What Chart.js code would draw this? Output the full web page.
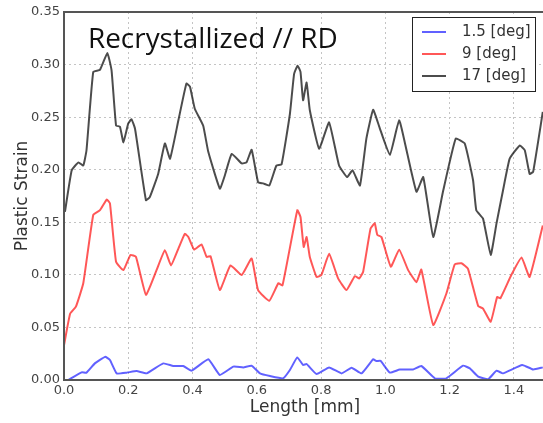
<!DOCTYPE html>
<html lang="en">
<head>
    <meta charset="UTF-8">
    <title>Recrystallized // RD</title>
    <script src="https://cdn.jsdelivr.net/npm/chart.js"></script>
    <style>
        html, body {
            margin: 0;
            padding: 0;
            background: #fff;
            overflow: hidden;
        }

        .chart-box {
            position: relative;
            width: 550px;
            height: 423px;
        }
    </style>
</head>
<body>
    <div class="chart-box">
        <canvas id="strainChart" width="550" height="423"></canvas>
    </div>

    <script>
        const chartTitle = 'Recrystallized // RD';
        const seriesNames = ['1.5 [deg]', '9 [deg]', '17 [deg]'];

        // 1.5 deg
        const length15 = [0.013, 0.055, 0.07, 0.096, 0.128, 0.143, 0.164, 0.195, 0.226, 0.257, 0.309, 0.34, 0.371, 0.397, 0.449, 0.485, 0.527, 0.558, 0.584, 0.61, 0.641, 0.682, 0.703, 0.726, 0.744, 0.755, 0.786, 0.825, 0.864, 0.895, 0.926, 0.962, 0.972, 0.985, 1.014, 1.045, 1.086, 1.112, 1.154, 1.19, 1.242, 1.263, 1.289, 1.32, 1.346, 1.366, 1.426, 1.46, 1.49];
        const strain15 = [0.0, 0.0073, 0.007, 0.0158, 0.022, 0.019, 0.0063, 0.007, 0.0085, 0.0063, 0.0158, 0.0133, 0.0133, 0.0089, 0.0197, 0.0048, 0.0127, 0.012, 0.0136, 0.0063, 0.0038, 0.0016, 0.0095, 0.0215, 0.0143, 0.0152, 0.0057, 0.012, 0.0063, 0.0117, 0.0063, 0.0197, 0.018, 0.0183, 0.007, 0.010, 0.010, 0.0133, 0.0016, 0.0016, 0.0136, 0.011, 0.0032, 0.0007, 0.0089, 0.0063, 0.0143, 0.010, 0.012];

        // 9 deg
        const length9 = [0, 0.019, 0.037, 0.06, 0.091, 0.112, 0.133, 0.143, 0.162, 0.185, 0.207, 0.224, 0.255, 0.288, 0.314, 0.333, 0.356, 0.376, 0.387, 0.405, 0.428, 0.444, 0.456, 0.485, 0.518, 0.553, 0.584, 0.604, 0.639, 0.667, 0.68, 0.726, 0.736, 0.746, 0.755, 0.765, 0.786, 0.801, 0.825, 0.853, 0.879, 0.905, 0.919, 0.931, 0.954, 0.967, 0.975, 0.988, 1.017, 1.043, 1.071, 1.097, 1.112, 1.149, 1.19, 1.216, 1.237, 1.257, 1.289, 1.304, 1.328, 1.348, 1.358, 1.392, 1.424, 1.449, 1.49];
        const strain9 = [0.033, 0.063, 0.0697, 0.092, 0.157, 0.1615, 0.1716, 0.168, 0.1124, 0.1045, 0.119, 0.117, 0.081, 0.1045, 0.1235, 0.109, 0.125, 0.139, 0.136, 0.124, 0.129, 0.117, 0.1178, 0.0855, 0.109, 0.0998, 0.1156, 0.0855, 0.0754, 0.092, 0.090, 0.1615, 0.155, 0.1266, 0.136, 0.117, 0.098, 0.0998, 0.120, 0.0966, 0.0855, 0.0988, 0.0966, 0.103, 0.144, 0.149, 0.138, 0.136, 0.1077, 0.124, 0.1045, 0.093, 0.105, 0.0523, 0.0823, 0.110, 0.111, 0.106, 0.0703, 0.068, 0.0554, 0.079, 0.0776, 0.0998, 0.1165, 0.098, 0.147];

        // 17 deg
        const length17 = [0.003, 0.024, 0.045, 0.06, 0.07, 0.091, 0.112, 0.135, 0.148, 0.162, 0.174, 0.185, 0.2, 0.21, 0.221, 0.255, 0.267, 0.293, 0.314, 0.33, 0.356, 0.381, 0.392, 0.407, 0.433, 0.449, 0.485, 0.501, 0.522, 0.553, 0.568, 0.584, 0.604, 0.62, 0.639, 0.661, 0.677, 0.703, 0.716, 0.727, 0.736, 0.744, 0.755, 0.765, 0.794, 0.825, 0.856, 0.881, 0.898, 0.921, 0.941, 0.962, 0.981, 1.014, 1.043, 1.066, 1.097, 1.118, 1.149, 1.18, 1.219, 1.247, 1.273, 1.283, 1.304, 1.328, 1.346, 1.366, 1.387, 1.418, 1.434, 1.449, 1.46, 1.49];
        const strain17 = [0.160, 0.1995, 0.207, 0.204, 0.2185, 0.293, 0.295, 0.311, 0.2945, 0.242, 0.241, 0.226, 0.244, 0.248, 0.239, 0.171, 0.174, 0.196, 0.225, 0.2105, 0.247, 0.282, 0.279, 0.258, 0.242, 0.217, 0.182, 0.195, 0.215, 0.206, 0.207, 0.219, 0.188, 0.187, 0.185, 0.204, 0.205, 0.253, 0.291, 0.299, 0.293, 0.266, 0.283, 0.2565, 0.220, 0.245, 0.204, 0.193, 0.1995, 0.185, 0.2296, 0.257, 0.241, 0.214, 0.247, 0.2185, 0.179, 0.193, 0.136, 0.180, 0.2296, 0.225, 0.190, 0.1615, 0.1535, 0.119, 0.149, 0.180, 0.2105, 0.223, 0.2185, 0.196, 0.198, 0.255];

        const lineColors = ['rgba(0, 0, 255, 0.62)', 'rgba(255, 0, 0, 0.66)', 'rgba(0, 0, 0, 0.7)'];

        const toPoints = (xs, ys) => xs.map((x, i) => ({ x: x, y: ys[i] }));

        // frame, title text and boxed legend drawn on top of the plot
        const overlayPlugin = {
            id: 'overlay',
            afterDraw(chart) {
                const { ctx, chartArea: a } = chart;
                ctx.save();

                ctx.strokeStyle = '#555';
                ctx.lineWidth = 2;
                ctx.strokeRect(a.left, a.top, a.right - a.left, a.bottom - a.top);

                // title squeezed to the width it has in the original (x 88..338)
                ctx.fillStyle = '#111';
                ctx.font = '25px "Open Sans"';
                const w = ctx.measureText(chartTitle).width;
                const size = Math.min(28, 25 * 250 / w);
                ctx.font = size.toFixed(1) + 'px "Open Sans"';
                ctx.textBaseline = 'alphabetic';
                ctx.textAlign = 'left';
                ctx.fillText(chartTitle, 88, 48);

                // legend
                ctx.fillStyle = '#fff';
                ctx.fillRect(412, 17, 123, 74);
                ctx.strokeStyle = '#222';
                ctx.lineWidth = 1;
                ctx.strokeRect(412.5, 17.5, 123, 74);

                ctx.font = '15px "DejaVu Sans"';
                ctx.textBaseline = 'middle';
                const rowsY = [32, 54, 76];
                seriesNames.forEach((name, i) => {
                    ctx.strokeStyle = lineColors[i];
                    ctx.lineWidth = 2;
                    ctx.beginPath();
                    ctx.moveTo(422, rowsY[i]);
                    ctx.lineTo(446, rowsY[i]);
                    ctx.stroke();
                    ctx.fillStyle = '#333';
                    ctx.fillText(name, 462, rowsY[i]);
                });

                ctx.restore();
            }
        };

        const ctx = document.getElementById('strainChart').getContext('2d');

        new Chart(ctx, {
            type: 'line',
            data: {
                datasets: [
                    { label: seriesNames[0], data: toPoints(length15, strain15), borderColor: lineColors[0], order: 3 },
                    { label: seriesNames[1], data: toPoints(length9, strain9), borderColor: lineColors[1], order: 2 },
                    { label: seriesNames[2], data: toPoints(length17, strain17), borderColor: lineColors[2], order: 1 }
                ]
            },
            options: {
                responsive: false,
                animation: false,
                events: [],
                layout: {
                    padding: { left: 0, top: 12, right: 4, bottom: 0 }
                },
                elements: {
                    point: { radius: 0 },
                    line: { borderWidth: 2, tension: 0.12, fill: false, borderJoinStyle: 'round' }
                },
                scales: {
                    x: {
                        type: 'linear',
                        min: 0,
                        max: 1.5,
                        afterFit: (scale) => { scale.height = 43; },
                        afterBuildTicks: (scale) => {
                            scale.ticks = scale.ticks.filter(t => t.value < 1.45);
                        },
                        ticks: {
                            stepSize: 0.2,
                            includeBounds: false,
                            padding: 3,
                            color: '#444',
                            font: { family: 'DejaVu Sans', size: 13 },
                            callback: (v) => Number(v).toFixed(1)
                        },
                        grid: {
                            color: '#c4c4c4',
                            lineWidth: 1,
                            drawTicks: false
                        },
                        border: { display: false, dash: [2, 3] },
                        title: {
                            display: true,
                            text: 'Length [mm]',
                            color: '#333',
                            font: { family: 'DejaVu Sans', size: 17 },
                            padding: { top: 0, bottom: 5 }
                        }
                    },
                    y: {
                        min: 0,
                        max: 0.35,
                        afterFit: (scale) => { scale.width = 64; },
                        ticks: {
                            stepSize: 0.05,
                            padding: 4,
                            color: '#444',
                            font: { family: 'DejaVu Sans', size: 13 },
                            callback: (v) => Number(v).toFixed(2)
                        },
                        grid: {
                            color: '#c4c4c4',
                            lineWidth: 1,
                            drawTicks: false
                        },
                        border: { display: false, dash: [2, 3] },
                        title: {
                            display: true,
                            text: 'Plastic Strain',
                            color: '#333',
                            font: { family: 'DejaVu Sans', size: 17 },
                            padding: { top: 12, bottom: 0 }
                        }
                    }
                },
                plugins: {
                    legend: { display: false },
                    tooltip: { enabled: false }
                }
            },
            plugins: [overlayPlugin]
        });
    </script>
</body>
</html>
